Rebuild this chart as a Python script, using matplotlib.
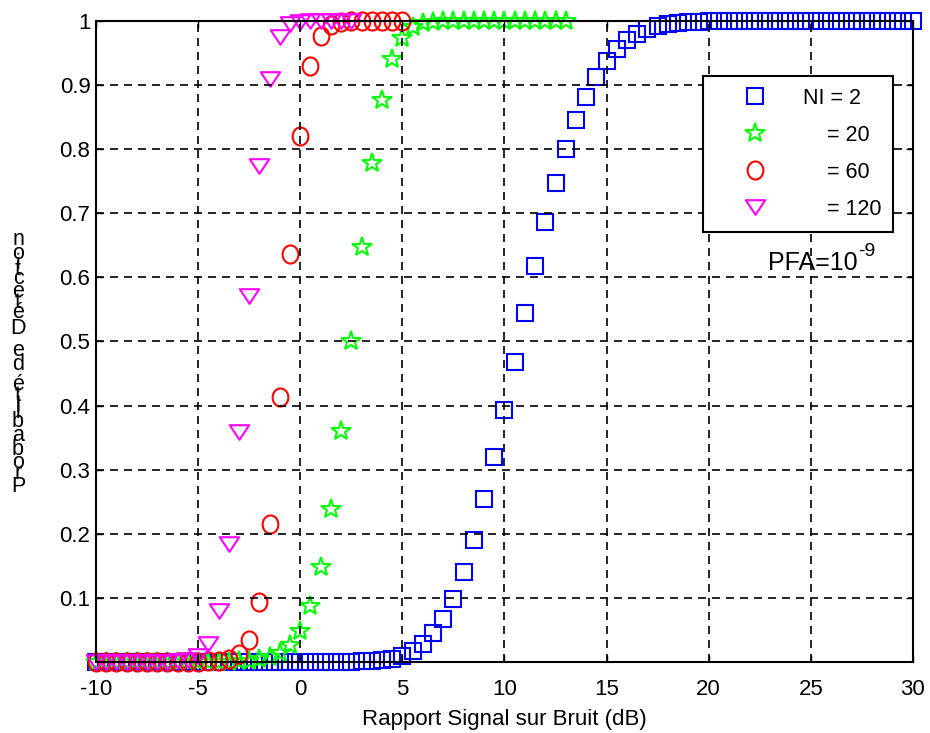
import numpy as np
import matplotlib
matplotlib.use("Agg")
import matplotlib.pyplot as plt
from matplotlib.path import Path
from matplotlib.font_manager import FontProperties
from matplotlib.textpath import TextToPath

plt.rcParams['font.family'] = ['Liberation Sans', 'DejaVu Sans']
plt.rcParams['mathtext.default'] = 'regular'
plt.rcParams['axes.unicode_minus'] = False

# SNR axis (dB), step 0.5
snr = np.arange(-10, 30.5, 0.5)

# NI = 2  (-10 .. 30 dB)
pd_ni2 = [0, 0, 0, 0, 0, 0, 0, 0, 0, 0,
          0, 0, 0, 0, 0, 0, 0, 0, 0, 0,
          0, 0, 0, 0, 0, 0, 0.001, 0.002, 0.003, 0.005,
          0.009, 0.017, 0.028, 0.045, 0.067, 0.098, 0.14, 0.19, 0.254, 0.319,
          0.393, 0.468, 0.544, 0.617, 0.687, 0.747, 0.80, 0.846, 0.882, 0.913,
          0.938, 0.956, 0.97, 0.98, 0.987, 0.992, 0.995, 0.997, 0.998, 0.999,
          1, 1, 1, 1, 1, 1, 1, 1, 1, 1,
          1, 1, 1, 1, 1, 1, 1, 1, 1, 1, 1]

# NI = 20  (-10 .. 13 dB)
pd_ni20 = [0, 0, 0, 0, 0, 0, 0, 0, 0, 0,
           0, 0, 0, 0, 0.001, 0.002, 0.004, 0.008, 0.014, 0.026,
           0.048, 0.087, 0.148, 0.238, 0.36, 0.5, 0.647, 0.778, 0.877, 0.941,
           0.974, 0.99, 0.997, 0.999, 1, 1, 1, 1, 1, 1,
           1, 1, 1, 1, 1, 1, 1]

# NI = 60  (-10 .. 5 dB)
pd_ni60 = [0, 0, 0, 0, 0, 0, 0, 0, 0, 0,
           0, 0.001, 0.002, 0.004, 0.012, 0.034, 0.093, 0.216, 0.414, 0.636,
           0.82, 0.93, 0.977, 0.994, 0.999, 1, 1, 1, 1, 1, 1]

# NI = 120  (-10 .. 2.5 dB)
pd_ni120 = [0, 0, 0, 0, 0, 0, 0, 0, 0.001, 0.003,
            0.009, 0.028, 0.079, 0.184, 0.359, 0.571, 0.773, 0.91, 0.975, 0.995,
            0.999, 1, 1, 1, 1, 1]

labels = ['NI = 2', '    = 20', '    = 60', '    = 120']

# custom marker shapes (slightly tall circle, wide triangle)
t = np.linspace(0, 2 * np.pi, 60)
ellipse = Path(np.column_stack([0.87 * np.sin(t), np.cos(t)]), closed=True)
tri = Path([(-1, 0.75), (1, 0.75), (0, -0.75), (-1, 0.75)], closed=True)

fig = plt.figure(figsize=(9.3, 7.33), dpi=100)
ax = fig.add_axes([0.1032, 0.0969, 0.8785, 0.8745])

kw = dict(linestyle='none', markerfacecolor='none', markeredgewidth=1.5, clip_on=False)
ax.plot(snr[:len(pd_ni2)], pd_ni2, marker='s', markersize=11, color='#0000ff', label=labels[0], **kw)
ax.plot(snr[:len(pd_ni20)], pd_ni20, marker='*', markersize=15, color='#00ff00', label=labels[1], **kw)
ax.plot(snr[:len(pd_ni60)], pd_ni60, marker=ellipse, markersize=13, color='#ff0000', label=labels[2], **kw)
ax.plot(snr[:len(pd_ni120)], pd_ni120, marker=tri, markersize=14, color='#ff00ff', label=labels[3], **kw)

ax.set_xlim(-10, 30)
ax.set_ylim(0, 1)
ax.set_xticks(np.arange(-10, 31, 5))
ax.set_yticks([0.1, 0.2, 0.3, 0.4, 0.5, 0.6, 0.7, 0.8, 0.9, 1])
ax.set_yticklabels(['0.1', '0.2', '0.3', '0.4', '0.5', '0.6', '0.7', '0.8', '0.9', '1'])
ax.tick_params(direction='in', top=True, right=True, length=5, width=1, labelsize=16)
ax.tick_params(axis='x', pad=12.5)
ax.tick_params(axis='y', pad=4)
for s in ax.spines.values():
    s.set_linewidth(1.5)
ax.grid(True, color='k', linestyle=(0, (4.8, 3.6)), linewidth=1.2)
ax.set_axisbelow(False)

ax.set_xlabel('Rapport Signal sur Bruit (dB)', fontsize=16, labelpad=6)

leg = ax.legend(loc='upper right', bbox_to_anchor=(0.9755, 0.914), borderaxespad=0,
                fontsize=15.5, frameon=True, fancybox=False, framealpha=1,
                edgecolor='k', borderpad=0.55, labelspacing=0.74,
                handlelength=3.7, handletextpad=0.37)
leg.get_frame().set_linewidth(1.5)

pfa = ax.text(0.823, 0.612, 'PFA=10', transform=ax.transAxes, ha='left',
              va='baseline', fontsize=18)
ax.annotate('-9', xy=(1.0, 0.6), xycoords=pfa, ha='left', va='bottom', fontsize=14)

# garbled vertical y-label: upright glyphs stacked upwards
ylab = 'Probabilité de Détection'
prop = FontProperties(family='Liberation Sans', size=15.5)
ttp = TextToPath()
widths = [ttp.get_text_width_height_descent(c, prop, ismath=False)[0] for c in ylab]
steps = [(widths[i] + widths[i + 1]) / 2 for i in range(len(ylab) - 1)]
y_bottom, y_top = 486, 240
scale = (y_bottom - y_top) / sum(steps)
ypix = y_bottom
for i, c in enumerate(ylab):
    fig.text(18 / 930, 1 - ypix / 733, c, ha='center', va='center', fontsize=15.5)
    if i < len(steps):
        ypix -= steps[i] * scale

fig.savefig('out.png', dpi=100)
